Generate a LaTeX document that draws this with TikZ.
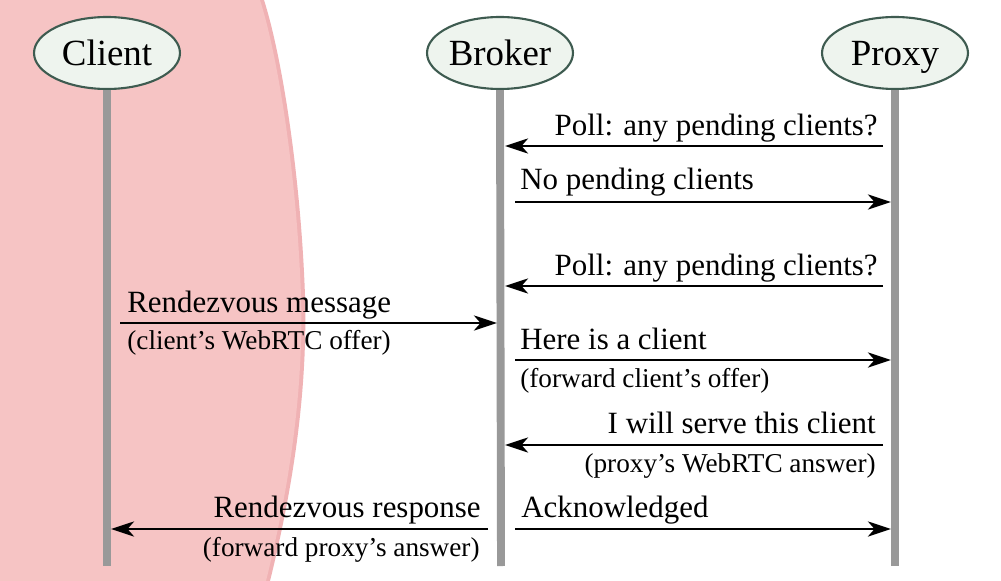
\documentclass[tikz,border=0pt]{standalone}
\usepackage{fontspec}
\setmainfont{Liberation Serif}
\usetikzlibrary{arrows.meta,shapes.geometric}
\definecolor{pinkbg}{RGB}{246,196,196}
\definecolor{pinkedge}{RGB}{240,178,180}
\definecolor{actorfill}{RGB}{238,244,238}
\definecolor{actorline}{RGB}{62,91,80}
\definecolor{lifegray}{RGB}{153,153,153}
\begin{document}
\begin{tikzpicture}[x=0.02cm,y=-0.02cm,
  actor/.style={ellipse, draw=actorline, fill=actorfill, line width=1.2pt,
    minimum width=2.92cm, minimum height=1.44cm, inner sep=0pt,
    text height=0.5cm, text depth=0cm,
    font=\fontsize{21}{24}\selectfont},
  life/.style={line width=4.5pt, draw=lifegray},
  msg/.style={line width=1.7pt, -{Stealth[length=0.46cm,width=0.3cm,inset=0.13cm]}},
  lbl/.style={font=\fontsize{17.6}{20}\selectfont, inner sep=0pt},
  sublbl/.style={font=\fontsize{15.5}{18}\selectfont, inner sep=0pt}]
\useasboundingbox (0,0) rectangle (1001,581);
\fill[white] (0,0) rectangle (1001,581);
% watercolour blob
\fill[pinkedge] (0,0) -- (264,0)
  .. controls (283,60) and (301,180) .. (305,296)
  .. controls (308,400) and (290,500) .. (270,581) -- (0,581) -- cycle;
\fill[pinkbg] (0,0) -- (260,0)
  .. controls (279,60) and (297,180) .. (301,296)
  .. controls (304,400) and (286,500) .. (266,581) -- (0,581) -- cycle;

% actors
\node[actor] (client) at (107,53) {Client};
\node[actor] (broker) at (500,53) {Broker};
\node[actor] (proxy) at (895,53) {Proxy};
\coordinate (cend) at (107,566);
\coordinate (bend) at (501,566);
\coordinate (pend) at (895,566);
\draw[life] (client.south) -- (cend);
\draw[life] (broker.south) -- (bend);
\draw[life] (proxy.south) -- (pend);

% 1 poll
\coordinate (p1) at (883,146); \coordinate (b1) at (505,146);
\draw[msg] (p1) -- (b1);
\node[lbl, anchor=base east] (t1) at (878,135) {Poll: any pending clients?};
% 2 no pending
\coordinate (b2) at (515,202); \coordinate (p2) at (891,202);
\draw[msg] (b2) -- (p2);
\node[lbl, anchor=base west] (t2) at (520,190) {No pending clients};
% 3 poll
\coordinate (p3) at (883,286); \coordinate (b3) at (505,286);
\draw[msg] (p3) -- (b3);
\node[lbl, anchor=base east] (t3) at (878,275) {Poll: any pending clients?};
% 4 rendezvous message
\coordinate (c4) at (120,323); \coordinate (b4) at (497,323);
\draw[msg] (c4) -- (b4);
\node[lbl, anchor=base west] (t4) at (127,312) {Rendezvous message};
\node[sublbl, anchor=base west] (s4) at (127,349) {(client’s WebRTC offer)};
% 5 here is a client
\coordinate (b5) at (515,360); \coordinate (p5) at (891,360);
\draw[msg] (b5) -- (p5);
\node[lbl, anchor=base west] (t5) at (520,349) {Here is a client};
\node[sublbl, anchor=base west] (s5) at (520,387) {(forward client’s offer)};
% 6 I will serve
\coordinate (p6) at (883,445); \coordinate (b6) at (505,445);
\draw[msg] (p6) -- (b6);
\node[lbl, anchor=base east] (t6) at (876,433) {I will serve this client};
\node[sublbl, anchor=base east] (s6) at (876,472) {(proxy’s WebRTC answer)};
% 7 rendezvous response
\coordinate (b7) at (488,529); \coordinate (c7) at (111,529);
\draw[msg] (b7) -- (c7);
\node[lbl, anchor=base east] (t7) at (481,517) {Rendezvous response};
\node[sublbl, anchor=base east] (s7) at (480,556) {(forward proxy’s answer)};
% 8 acknowledged
\coordinate (b8) at (515,529); \coordinate (p8) at (891,529);
\draw[msg] (b8) -- (p8);
\node[lbl, anchor=base west] (t8) at (521,517) {Acknowledged};
\end{tikzpicture}
\end{document}
